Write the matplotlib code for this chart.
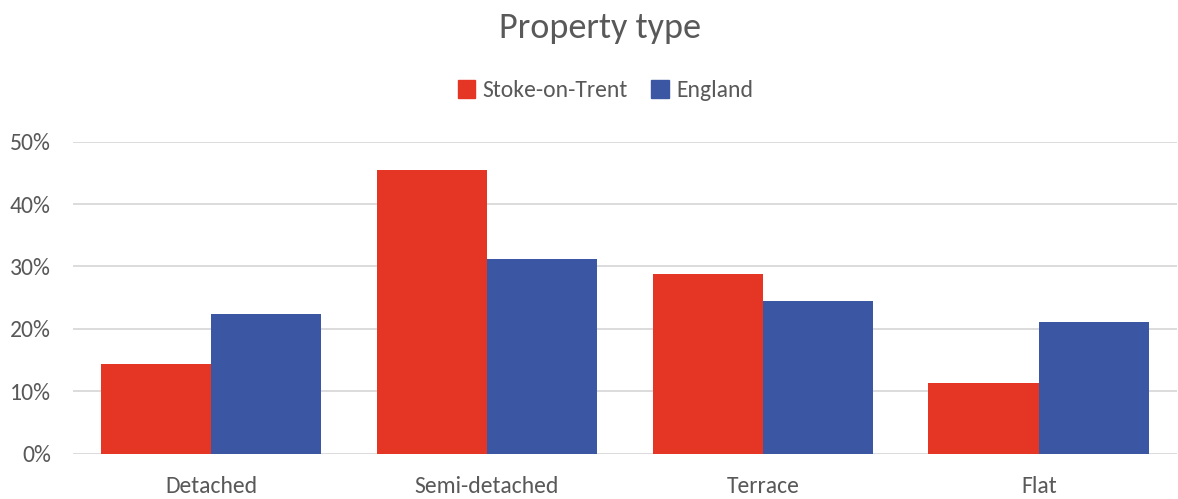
import matplotlib
matplotlib.use("Agg")
import matplotlib.pyplot as plt
import numpy as np
from matplotlib.ticker import PercentFormatter
from matplotlib.patches import Patch

plt.rcParams['font.family'] = ['Carlito', 'Lato', 'DejaVu Sans']

categories = ['Detached', 'Semi-detached', 'Terrace', 'Flat']
stoke = [14.4, 45.4, 28.8, 11.3]
england = [22.4, 31.2, 24.5, 21.1]

red = '#E53524'
blue = '#3B56A3'
text_col = '#595959'

fig = plt.figure(figsize=(11.78, 4.99), dpi=100)
ax = fig.add_axes([0.062, 0.091, 0.937, 0.625])

x = np.arange(len(categories))
w = 0.4
ax.bar(x - w / 2, np.array(stoke) / 100, w, color=red, label='Stoke-on-Trent', zorder=3)
ax.bar(x + w / 2, np.array(england) / 100, w, color=blue, label='England', zorder=3)

ax.set_xlim(-0.5, len(categories) - 0.5)
ax.set_ylim(0, 0.5)
ax.set_yticks(np.arange(0, 0.51, 0.1))
ax.yaxis.set_major_formatter(PercentFormatter(1.0, decimals=0))
ax.set_xticks(x)
ax.set_xticklabels(categories)
ax.grid(axis='y', color='#D9D9D9', linewidth=1.3, zorder=0)
for s in ax.spines.values():
    s.set_visible(False)
ax.tick_params(length=0, labelsize=17, colors=text_col)
ax.tick_params(axis='y', pad=16)
ax.tick_params(axis='x', pad=16)

# заголовок чуть правее центра, как в оригинале
fig.text(0.509, 0.943, 'Property type', ha='center', va='center', fontsize=26, color=text_col)

handles = [Patch(color=red, label='Stoke-on-Trent'), Patch(color=blue, label='England')]
fig.legend(handles=handles, loc='center', bbox_to_anchor=(0.514, 0.818), ncol=2, frameon=False,
           fontsize=17, labelcolor=text_col, handlelength=0.75, handleheight=0.75,
           handletextpad=0.3, columnspacing=1.0)

fig.savefig('out.png', dpi=100)
